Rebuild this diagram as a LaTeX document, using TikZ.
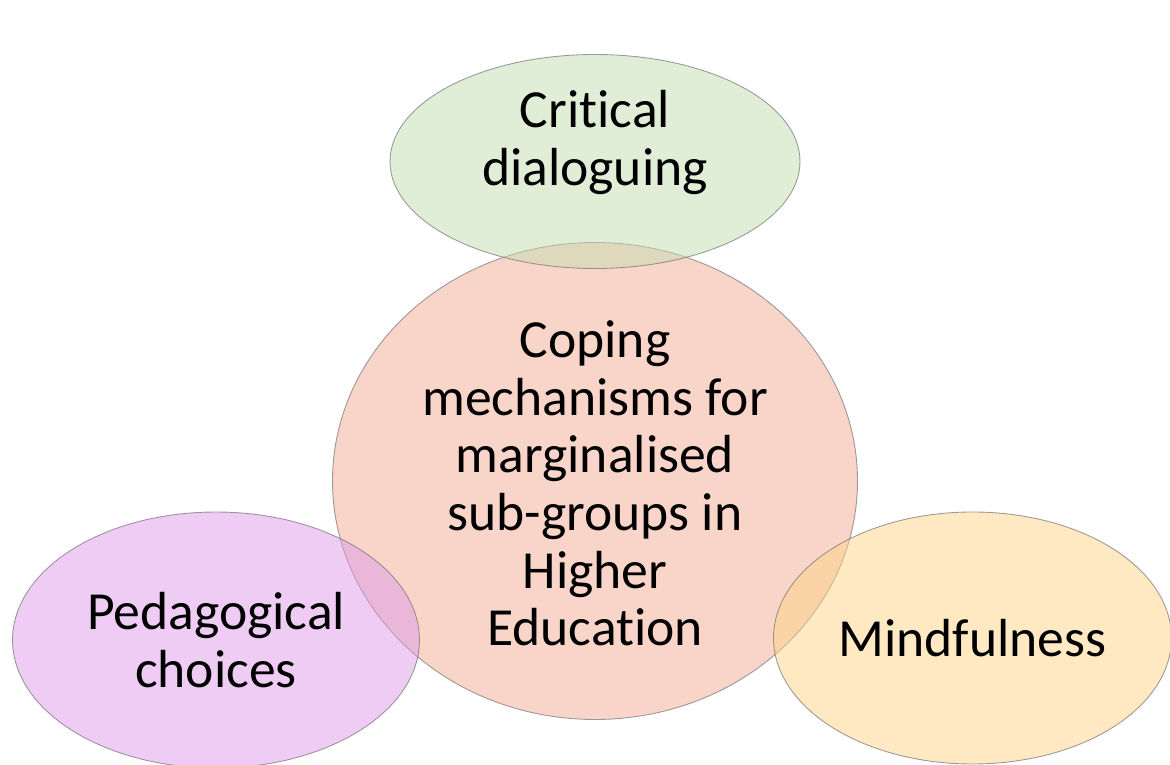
\documentclass[tikz,border=0pt]{standalone}
\usepackage{fontspec}
\setmainfont[RawFeature={-liga;-clig;-calt;-dlig}]{Carlito}
\usepackage{tikz}
\usetikzlibrary{positioning}
\usetikzlibrary{shapes.geometric}
\usepackage{xcolor}

\definecolor{dialoggreen}{HTML}{C3DDB0}
\definecolor{copingpink}{HTML}{F3AC94}
\definecolor{pedapurple}{HTML}{DD9AEA}
\definecolor{mindorange}{HTML}{FDD386}

\begin{document}
\begin{tikzpicture}[
  bubble/.style={ellipse, draw=black!55, line width=0.5pt, draw opacity=0.7,
    fill opacity=0.5, text opacity=1, inner sep=0pt, outer sep=0pt},
  caption/.style={align=center, font=\fontsize{30.5}{32.8}\selectfont, text=black}
]
\useasboundingbox (0,0) rectangle (23.4,15.3);

% Centre: the coping mechanisms
\node[bubble, fill=copingpink, minimum width=10.5cm, minimum height=9.54cm,
  label={[caption, yshift=-0.05cm]center:Coping\\mechanisms for\\marginalised\\sub-groups in\\Higher\\Education}]
  (coping) at (11.9,5.68) {};

% Satellites round the centre
\node[bubble, fill=dialoggreen, minimum width=8.2cm, minimum height=4.28cm,
  above=-0.52cm of coping,
  label={[caption, yshift=0.38cm]center:Critical\\dialoguing}] (dialog) {};

\node[bubble, fill=pedapurple, minimum width=8.14cm, minimum height=5.12cm,
  left=-1.74cm of coping, yshift=-3.18cm,
  label={[caption]center:Pedagogical\\choices}] (peda) {};

\node[bubble, fill=mindorange, minimum width=7.96cm, minimum height=5.04cm,
  right=-1.68cm of coping, yshift=-3.14cm,
  label={[caption]center:Mindfulness}] (mind) {};

\end{tikzpicture}
\end{document}
